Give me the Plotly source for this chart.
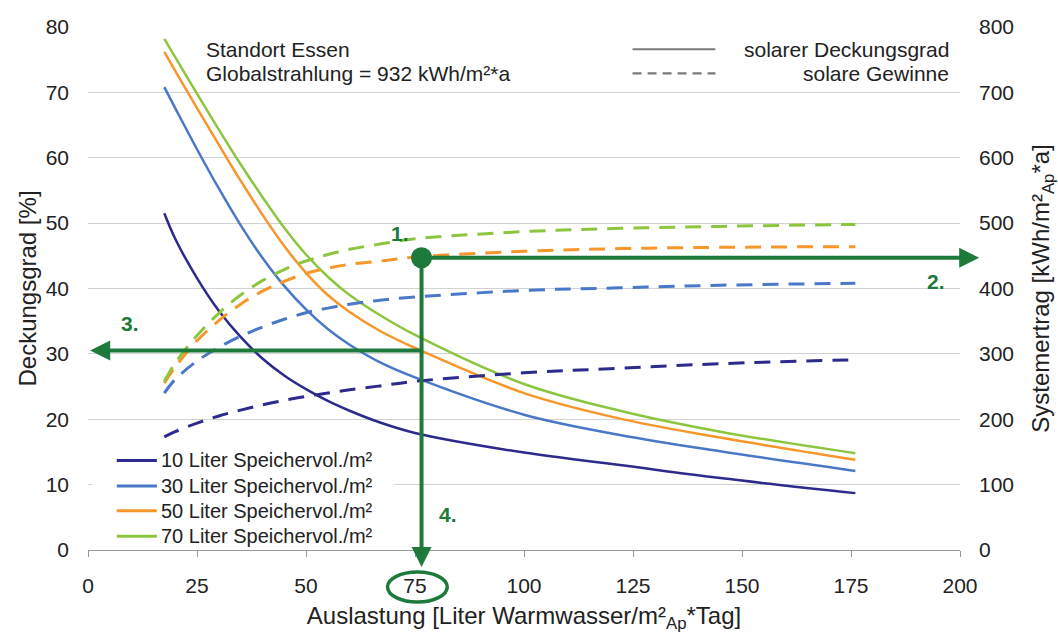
import plotly.graph_objects as go

# ---- data ----
auslastung = [17.5, 20, 25, 30, 35, 40, 45, 50, 55, 60, 67, 75, 100, 122, 145, 176]

series_names = ["10 Liter Speichervol./m²", "30 Liter Speichervol./m²",
                "50 Liter Speichervol./m²", "70 Liter Speichervol./m²"]
series_colors = ["#2c2a8c", "#4a78c8", "#f7962a", "#8cc63f"]

# solarer Deckungsgrad [%] (left axis)
deckung_10 = [51.5, 47.6, 41.6, 36.6, 32.6, 29.3, 26.7, 24.6, 22.8, 21.3, 19.5, 17.9, 14.9, 13.0, 11.0, 8.7]
deckung_30 = [70.8, 67.6, 61.3, 55.3, 49.7, 44.7, 40.4, 36.8, 33.8, 31.4, 28.7, 26.4, 20.7, 17.6, 15.1, 12.1]
deckung_50 = [76.2, 73.3, 67.6, 62.0, 56.5, 51.3, 46.5, 42.4, 39.0, 36.4, 33.5, 30.9, 24.0, 20.1, 17.2, 13.8]
deckung_70 = [78.2, 75.4, 69.8, 64.3, 59.0, 54.0, 49.3, 45.2, 41.8, 39.0, 35.9, 32.9, 25.4, 21.3, 18.1, 14.8]

# solare Gewinne [kWh/m²Ap*a] (right axis)
gewinn_10 = [173, 181, 194, 205, 214, 222, 229, 235, 240, 245, 251, 258, 271, 278, 285, 291]
gewinn_30 = [240, 261, 289, 310, 327, 341, 353, 363, 370, 376, 382, 387, 397, 401, 405, 408]
gewinn_50 = [255, 280, 320, 351, 376, 396, 411, 423, 431, 437, 442, 448, 457, 461, 463, 464]
gewinn_70 = [258, 286, 328, 362, 390, 412, 429, 442, 452, 460, 468, 476, 487, 492, 495, 498]

deckung = [deckung_10, deckung_30, deckung_50, deckung_70]
gewinn = [gewinn_10, gewinn_30, gewinn_50, gewinn_70]

x_ticks = [0, 25, 50, 75, 100, 125, 150, 175, 200]
y_ticks = [0, 10, 20, 30, 40, 50, 60, 70, 80]
y2_ticks = [0, 100, 200, 300, 400, 500, 600, 700, 800]

# reading example (Auslastung, Systemertrag, Deckungsgrad)
example_x = 76.5
example_ertrag = 447
example_deckung = 30.5

FONT = "Liberation Sans, Arial, sans-serif"
TXT = "#222222"
ARROW = "#1e7a3a"

fig = go.Figure()

for name, col, yv in zip(series_names, series_colors, gewinn):
    fig.add_trace(go.Scatter(x=auslastung, y=yv, mode="lines", yaxis="y2",
                             line=dict(color=col, width=3, dash="16px,10px", shape="spline"),
                             showlegend=False, hoverinfo="skip"))
for name, col, yv in zip(series_names, series_colors, deckung):
    fig.add_trace(go.Scatter(x=auslastung, y=yv, mode="lines", name=name,
                             line=dict(color=col, width=2.5, shape="spline"),
                             showlegend=False))

# example point
fig.add_trace(go.Scatter(x=[example_x], y=[example_ertrag], yaxis="y2", mode="markers",
                         marker=dict(color=ARROW, size=21), showlegend=False,
                         cliponaxis=False, hoverinfo="skip"))

annotations = []
# arrows
arrow_common = dict(showarrow=True, arrowhead=2, arrowsize=1, arrowwidth=4,
                    arrowcolor=ARROW, text="", standoff=0, startstandoff=0)
annotations.append(dict(x=204.4, y=example_ertrag, xref="x", yref="y2",
                        ax=example_x, ay=example_ertrag, axref="x", ayref="y2", **arrow_common))
annotations.append(dict(x=example_x, y=-2.6, xref="x", yref="y",
                        ax=example_x, ay=example_ertrag / 10, axref="x", ayref="y", **arrow_common))
annotations.append(dict(x=0.5, y=example_deckung, xref="x", yref="y",
                        ax=example_x, ay=example_deckung, axref="x", ayref="y", **arrow_common))

step_font = dict(family=FONT, size=21, color=ARROW)
for t, xx, yy in [("<b>1.</b>", 71.5, 48.4), ("<b>2.</b>", 194.5, 41.0),
                  ("<b>3.</b>", 9.6, 34.6), ("<b>4.</b>", 82.5, 5.5)]:
    annotations.append(dict(text=t, x=xx, y=yy, xref="x", yref="y", showarrow=False,
                            font=step_font))

# location text
loc_font = dict(family=FONT, size=21, color=TXT)
annotations.append(dict(text="Standort Essen", x=26.6, y=76.6, xref="x", yref="y",
                        xanchor="left", showarrow=False, font=loc_font))
annotations.append(dict(text="Globalstrahlung = 932 kWh/m²*a", x=26.6, y=72.9, xref="x", yref="y",
                        xanchor="left", showarrow=False, font=loc_font))

shapes = []
# style legend (top right)
for dash, yy, label in [("solid", 76.6, "solarer Deckungsgrad"), ("9px,6px", 72.9, "solare Gewinne")]:
    shapes.append(dict(type="line", x0=124.9, x1=143.9, y0=yy, y1=yy, xref="x", yref="y",
                       line=dict(color="#7a7a7a", width=2.2, dash=dash)))
    annotations.append(dict(text=label, x=197.9, y=yy, xref="x", yref="y", xanchor="right",
                            showarrow=False, font=loc_font))

# series legend (bottom left) with white background
shapes.append(dict(type="rect", x0=0.9, x1=70.3, y0=0.3, y1=15.6, xref="x", yref="y",
                   fillcolor="white", line=dict(width=0), layer="between"))
for name, col, yy in zip(series_names, series_colors, [13.7, 9.8, 6.0, 2.1]):
    shapes.append(dict(type="line", x0=6.6, x1=15.8, y0=yy, y1=yy, xref="x", yref="y",
                       line=dict(color=col, width=3)))
    annotations.append(dict(text=name, x=16.3, y=yy, xref="x", yref="y", xanchor="left",
                            showarrow=False, font=dict(family=FONT, size=20, color=TXT)))

# ellipse around the 75 tick label (below the plot area -> paper y so it is not clipped)
shapes.append(dict(type="circle", x0=68.7, x1=82.4, y0=-0.0994, y1=-0.042, xref="x", yref="paper",
                   line=dict(color=ARROW, width=3.5)))

fig.update_layout(
    width=1058, height=633,
    margin=dict(l=88, r=98, t=27, b=83),
    paper_bgcolor="white", plot_bgcolor="white",
    font=dict(family=FONT, size=21, color=TXT),
    showlegend=False,
    xaxis=dict(range=[0, 200], tickvals=x_ticks, showgrid=False, zeroline=False,
               showline=True, linecolor="#999999", linewidth=1.2, automargin=False,
               ticks="outside", ticklen=6, tickcolor="#999999", ticklabelstandoff=11,
               tickfont=dict(size=21),
               title=dict(text="Auslastung [Liter Warmwasser/m²<sub>Ap</sub>*Tag]",
                          standoff=16, font=dict(size=24))),
    yaxis=dict(range=[0, 80], tickvals=y_ticks, showgrid=True, gridcolor="#d2d2d2", gridwidth=1,
               zeroline=False, showline=False, ticks="", ticklabelstandoff=18, automargin=False,
               tickfont=dict(size=21),
               title=dict(text="Deckungsgrad [%]", standoff=2, font=dict(size=24))),
    yaxis2=dict(range=[0, 800], tickvals=y2_ticks, overlaying="y", side="right", showgrid=False,
                zeroline=False, showline=False, ticks="", ticklabelstandoff=18, automargin=False,
                tickfont=dict(size=21),
                title=dict(text="Systemertrag [kWh/m²<sub>Ap</sub>*a]", standoff=20,
                           font=dict(size=24))),
    annotations=annotations,
    shapes=shapes,
)

fig.write_html("out.html", config={"displayModeBar": False},
               post_script="document.body.style.margin='0';document.body.style.overflow='hidden';")
